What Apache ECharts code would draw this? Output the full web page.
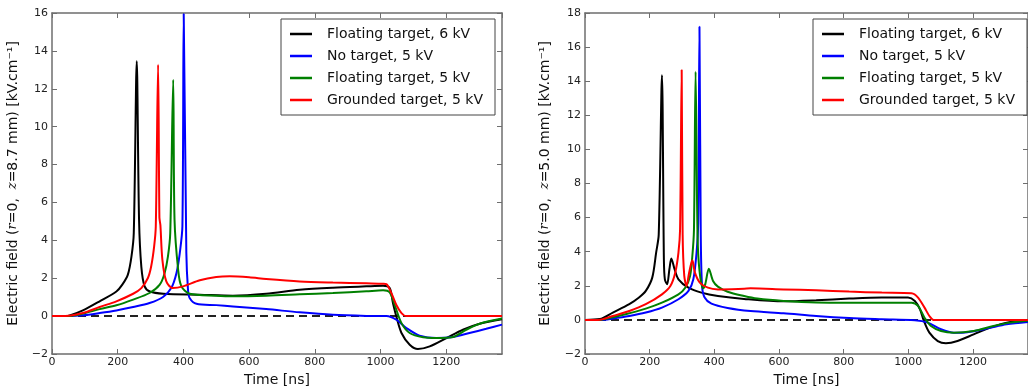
<!DOCTYPE html>
<html>
<head>
<meta charset="utf-8">
<script src="https://cdn.jsdelivr.net/npm/echarts@6/dist/echarts.min.js"></script>
<style>
  html, body { margin: 0; padding: 0; background: #fff; }
  #main { width: 1028px; height: 392px; }
</style>
</head>
<body>
<div id="main"></div>
<script>
// time [ns], field [kV/cm]
const names = ['Floating target, 6 kV', 'No target, 5 kV', 'Floating target, 5 kV', 'Grounded target, 5 kV']
const colors = ['#000000', '#0000ff', '#008000', '#ff0000']

// left panel, z = 8.7 mm
const leftFloat6 = [[0,0],[40,0],[54,0.03],[94,0.3],[145,0.78],[196,1.3],[214,1.66],[231,2.19],[242,3.15],[249,4.4],[258,13.45],[265,5.1],[272,2.6],[282,1.57],[298,1.3],[339,1.18],[450,1.13],[551,1.08],[652,1.18],[754,1.39],[855,1.5],[957,1.57],[1008,1.6],[1028,1.48],[1038,0.69],[1048,0],[1064,-0.89],[1089,-1.51],[1114,-1.74],[1150,-1.6],[1201,-1.16],[1251,-0.72],[1302,-0.4],[1370,-0.17]]
const leftNone5 = [[0,0],[50,0],[94,0.04],[145,0.16],[196,0.3],[247,0.48],[297,0.69],[338,1.01],[363,1.48],[379,2.28],[389,3.33],[397,4.74],[401,15.95],[409,3.33],[414,1.4],[419,0.96],[440,0.65],[500,0.58],[551,0.51],[652,0.37],[754,0.2],[855,0.07],[957,0.01],[1018,0],[1048,-0.19],[1079,-0.63],[1119,-1.03],[1170,-1.16],[1221,-1.1],[1271,-0.89],[1322,-0.67],[1370,-0.45]]
const leftFloat5 = [[0,0],[50,0],[94,0.13],[145,0.37],[196,0.57],[247,0.87],[297,1.22],[328,1.66],[343,2.28],[353,3.15],[360,4.39],[369,12.48],[373,5.1],[384,2.45],[394,1.57],[419,1.18],[500,1.08],[551,1.05],[652,1.08],[754,1.15],[855,1.22],[957,1.31],[1008,1.36],[1028,1.25],[1043,0.6],[1064,-0.37],[1089,-0.89],[1130,-1.12],[1170,-1.16],[1221,-1.1],[1261,-0.72],[1302,-0.4],[1370,-0.13]]
const leftGround5 = [[0,0],[40,0],[94,0.16],[145,0.48],[196,0.78],[247,1.18],[272,1.48],[292,2.01],[302,2.63],[311,3.68],[316,4.74],[323,13.27],[327,5.2],[330,4.8],[336,2.98],[348,1.83],[368,1.48],[399,1.57],[450,1.89],[500,2.06],[541,2.1],[600,2.05],[652,1.96],[754,1.83],[855,1.77],[957,1.73],[1008,1.71],[1018,1.69],[1033,1.22],[1048,0.6],[1064,0.16],[1078,0],[1370,0]]

// right panel, z = 5.0 mm
const rightFloat6 = [[0,0],[46,0.05],[86,0.43],[137,0.92],[167,1.31],[188,1.7],[208,2.48],[220,3.95],[228,5.0],[238,14.35],[244,3.5],[247,2.38],[254,2.09],[261,2.97],[267,3.6],[277,2.97],[289,2.38],[320,1.89],[360,1.6],[411,1.4],[492,1.23],[614,1.09],[715,1.15],[817,1.25],[918,1.31],[999,1.31],[1020,1.11],[1036,0.62],[1048,-0.06],[1065,-0.75],[1091,-1.24],[1116,-1.37],[1152,-1.24],[1202,-0.85],[1253,-0.45],[1304,-0.16],[1370,-0.04]]
const rightNone5 = [[0,0],[50,0],[86,0.08],[137,0.23],[188,0.43],[238,0.72],[289,1.21],[320,1.7],[335,2.38],[345,3.95],[350,5.7],[354,17.2],[358,5],[362,1.99],[370,1.31],[391,0.95],[441,0.7],[512,0.52],[614,0.39],[715,0.23],[817,0.11],[918,0.04],[1020,-0.02],[1060,-0.16],[1101,-0.55],[1141,-0.75],[1182,-0.72],[1243,-0.51],[1304,-0.26],[1370,-0.12]]
const rightFloat5 = [[0,0],[45,0],[86,0.15],[137,0.39],[188,0.66],[238,1.01],[289,1.5],[310,1.89],[325,2.58],[332,3.75],[337,5.3],[342,14.56],[348,5],[354,2.9],[365,1.85],[372,2.1],[383,3.0],[396,2.28],[411,1.95],[441,1.65],[492,1.4],[533,1.25],[614,1.11],[715,1.02],[817,1.01],[918,1.01],[1010,1.01],[1030,0.82],[1050,0.13],[1070,-0.36],[1101,-0.65],[1141,-0.75],[1202,-0.65],[1263,-0.36],[1314,-0.16],[1370,-0.05]]
const rightGround5 = [[0,0],[40,0],[86,0.23],[137,0.52],[188,0.92],[238,1.5],[264,1.99],[279,2.77],[289,3.95],[294,5.3],[299,14.66],[302,5],[307,2.58],[314,1.99],[322,2.77],[332,3.5],[340,2.77],[355,2.19],[380,1.89],[411,1.79],[492,1.83],[512,1.85],[614,1.79],[715,1.74],[817,1.66],[918,1.6],[1010,1.56],[1030,1.31],[1050,0.72],[1065,0.23],[1078,0],[1370,0]]

const zeroLine = [[0,0],[1370,0]]
const xTicks = { min: 0, max: 1370, interval: 200 }
const leftY = { min: -2, max: 16, interval: 2 }
const rightY = { min: -2, max: 18, interval: 2 }

const FONT = 'DejaVu Sans'
const AXIS_COLOR = '#6e6e6e'

function minus(v) {
  return String(v).replace('-', '\u2212')
}

function frame(g, range) {
  return {
    type: 'value', gridIndex: g, min: range.min, max: range.max, interval: range.interval,
    axisLine: { show: true, onZero: false, lineStyle: { color: AXIS_COLOR, width: 1.5 } },
    axisTick: { show: true, inside: true, length: 5, lineStyle: { color: AXIS_COLOR } },
    splitLine: { show: false }
  }
}

function xAxes(g) {
  return [
    Object.assign(frame(g, xTicks), {
      position: 'bottom',
      name: 'Time [ns]', nameLocation: 'middle', nameGap: 15,
      nameTextStyle: { fontFamily: FONT, fontSize: 14, color: '#111' },
      axisLabel: { fontFamily: FONT, fontSize: 11, color: '#222', margin: 3, showMaxLabel: false, formatter: minus }
    }),
    Object.assign(frame(g, xTicks), { position: 'top', axisLabel: { show: false } })
  ]
}

function yAxes(g, range, zText, gap) {
  return [
    Object.assign(frame(g, range), {
      position: 'left',
      name: 'Electric field ({i|r}=0,  {i|z}=' + zText + ' mm) [kV.cm\u207B\u00B9]',
      nameLocation: 'middle', nameGap: gap, nameRotate: 90,
      nameTextStyle: {
        fontFamily: FONT, fontSize: 14, color: '#111',
        rich: { i: { fontFamily: 'DejaVu Serif', fontStyle: 'italic', fontSize: 13, color: '#111' } }
      },
      axisLabel: { fontFamily: FONT, fontSize: 11, color: '#222', margin: 4, formatter: minus }
    }),
    Object.assign(frame(g, range), { position: 'right', axisLabel: { show: false } })
  ]
}

function panelSeries(g, sets) {
  let out = [{
    type: 'line', name: 'zero', xAxisIndex: g * 2, yAxisIndex: g * 2,
    data: zeroLine, symbol: 'none', silent: true,
    lineStyle: { color: '#222', width: 2, type: [8, 5] }, z: 1
  }]
  sets.forEach((d, k) => {
    out.push({
      type: 'line', name: names[k], xAxisIndex: g * 2, yAxisIndex: g * 2,
      data: d, symbol: 'none', smooth: 0.3,
      itemStyle: { color: colors[k] },
      lineStyle: { color: colors[k], width: 2 }, z: 2 + k
    })
  })
  return out
}

function legendAt(left) {
  return {
    left: left, top: 19, orient: 'vertical', data: names, icon: 'rect',
    itemWidth: 22, itemHeight: 2.5, itemGap: 6, selectedMode: false,
    padding: [7, 9, 7, 9], borderColor: '#444', borderWidth: 1, backgroundColor: '#fff',
    textStyle: { fontFamily: FONT, fontSize: 14, color: '#111', lineHeight: 16, width: 159, padding: [0, 0, 0, 10] }
  }
}

let oChart = echarts.init(document.getElementById('main'), null, { renderer: 'canvas' })
oChart.setOption({
  animation: false,
  backgroundColor: '#fff',
  grid: [
    { left: 52, top: 13, width: 450, height: 341 },
    { left: 585, top: 13, width: 450, height: 341 }
  ],
  xAxis: xAxes(0).concat(xAxes(1)),
  yAxis: yAxes(0, leftY, '8.7', 32).concat(yAxes(1, rightY, '5.0', 33)),
  legend: [legendAt(281), legendAt(813)],
  series: panelSeries(0, [leftFloat6, leftNone5, leftFloat5, leftGround5])
    .concat(panelSeries(1, [rightFloat6, rightNone5, rightFloat5, rightGround5]))
})
</script>
</body>
</html>
